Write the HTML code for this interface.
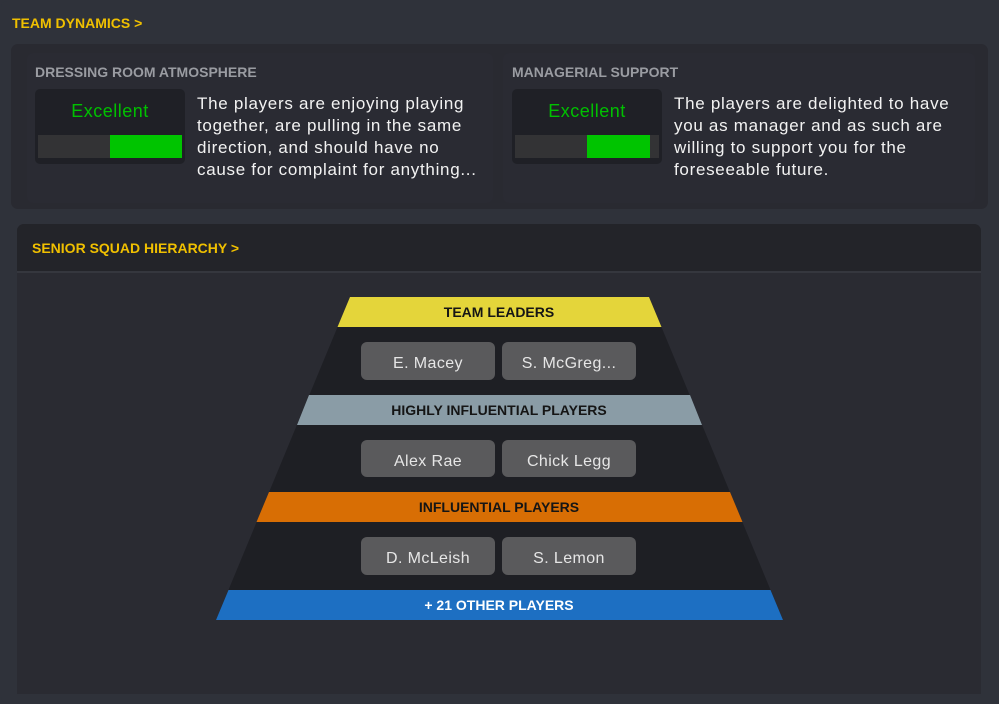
<!DOCTYPE html>
<html><head><style>
*{margin:0;padding:0;box-sizing:border-box}
body{width:999px;height:704px;background:#2f323a;font-family:"Liberation Sans",sans-serif;position:relative;overflow:hidden}
.a{position:absolute}
.y{color:#f0c000;font-weight:bold;font-size:14px}
.g{color:#9a9ca2;font-weight:bold;font-size:14px}
.t{color:#f2f2f2;font-size:17px;line-height:22px;letter-spacing:0.7px}
.box{background:#1f2026;border-radius:5px}
.ex{color:#00c000;font-size:18px;text-align:center;letter-spacing:0.5px}
.btn{position:absolute;background:#5a5a5c;border-radius:6px;color:#e6e6e6;font-size:16px;text-align:center;line-height:43px;width:134px;height:38px;letter-spacing:0.4px}
</style></head><body>
<div class="a" style="left:1px;top:1px;width:997px;height:702px;border-radius:6px;background:#2f323a"></div>
<div class="a y" style="left:12px;top:15px">TEAM DYNAMICS &gt;</div>
<div class="a" style="left:11px;top:44px;width:977px;height:165px;background:#292a31;border-radius:7px"></div>
<div class="a" style="left:27px;top:53px;width:466px;height:150px;background:#2a2b33;border-radius:6px"></div>
<div class="a" style="left:503px;top:53px;width:472px;height:150px;background:#2a2b33;border-radius:6px"></div>
<div class="a g" style="left:35px;top:64px">DRESSING ROOM ATMOSPHERE</div>
<div class="a box" style="left:35px;top:89px;width:150px;height:75px"></div>
<div class="a ex" style="left:35px;top:101px;width:150px">Excellent</div>
<div class="a" style="left:38px;top:135px;width:144px;height:23px;background:#333335"></div>
<div class="a" style="left:110px;top:135px;width:72px;height:23px;background:#00c400"></div>
<div class="a t" style="left:197px;top:93px;width:285px">The players are enjoying playing together, are pulling in the same direction, and should have no cause for complaint for anything...</div>
<div class="a g" style="left:512px;top:64px">MANAGERIAL SUPPORT</div>
<div class="a box" style="left:512px;top:89px;width:150px;height:75px"></div>
<div class="a ex" style="left:512px;top:101px;width:150px">Excellent</div>
<div class="a" style="left:515px;top:135px;width:144px;height:23px;background:#333335"></div>
<div class="a" style="left:587px;top:135px;width:63px;height:23px;background:#00c400"></div>
<div class="a t" style="left:674px;top:93px;width:292px">The players are delighted to have you as manager and as such are willing to support you for the foreseeable future.</div>
<div class="a" style="left:17px;top:224px;width:964px;height:470px;background:#2a2b32;border-radius:7px 7px 0 0"></div>
<div class="a" style="left:17px;top:224px;width:964px;height:47px;background:#232429;border-radius:7px 7px 0 0"></div>
<div class="a" style="left:17px;top:271px;width:964px;height:2px;background:#35373e"></div>
<div class="a y" style="left:32px;top:240px">SENIOR SQUAD HIERARCHY &gt;</div>
<svg class="a" style="left:0;top:0" width="999" height="704" font-family="Liberation Sans, sans-serif" font-size="14" font-weight="bold" text-anchor="middle">
<polygon points="350,297 649,297 783,620 216,620" fill="#1e1f24"/>
<polygon points="350,297 649,297 661.5,327 337.5,327" fill="#e4d53a"/>
<polygon points="309,395 690,395 702,425 297,425" fill="#8a9ca6"/>
<polygon points="269,492 730,492 742.5,522 256.5,522" fill="#d86e04"/>
<polygon points="228.5,590 770.5,590 783,620 216,620" fill="#1d6fc2"/>
<text x="499" y="317" fill="#151515">TEAM LEADERS</text>
<text x="499" y="415" fill="#151515">HIGHLY INFLUENTIAL PLAYERS</text>
<text x="499" y="512" fill="#151515">INFLUENTIAL PLAYERS</text>
<text x="499" y="610" fill="#ffffff">+ 21 OTHER PLAYERS</text>
</svg>
<div class="btn" style="left:361px;top:342px">E. Macey</div>
<div class="btn" style="left:502px;top:342px">S. McGreg...</div>
<div class="btn" style="left:361px;top:440px;height:37px">Alex Rae</div>
<div class="btn" style="left:502px;top:440px;height:37px">Chick Legg</div>
<div class="btn" style="left:361px;top:537px">D. McLeish</div>
<div class="btn" style="left:502px;top:537px">S. Lemon</div>
</body></html>
